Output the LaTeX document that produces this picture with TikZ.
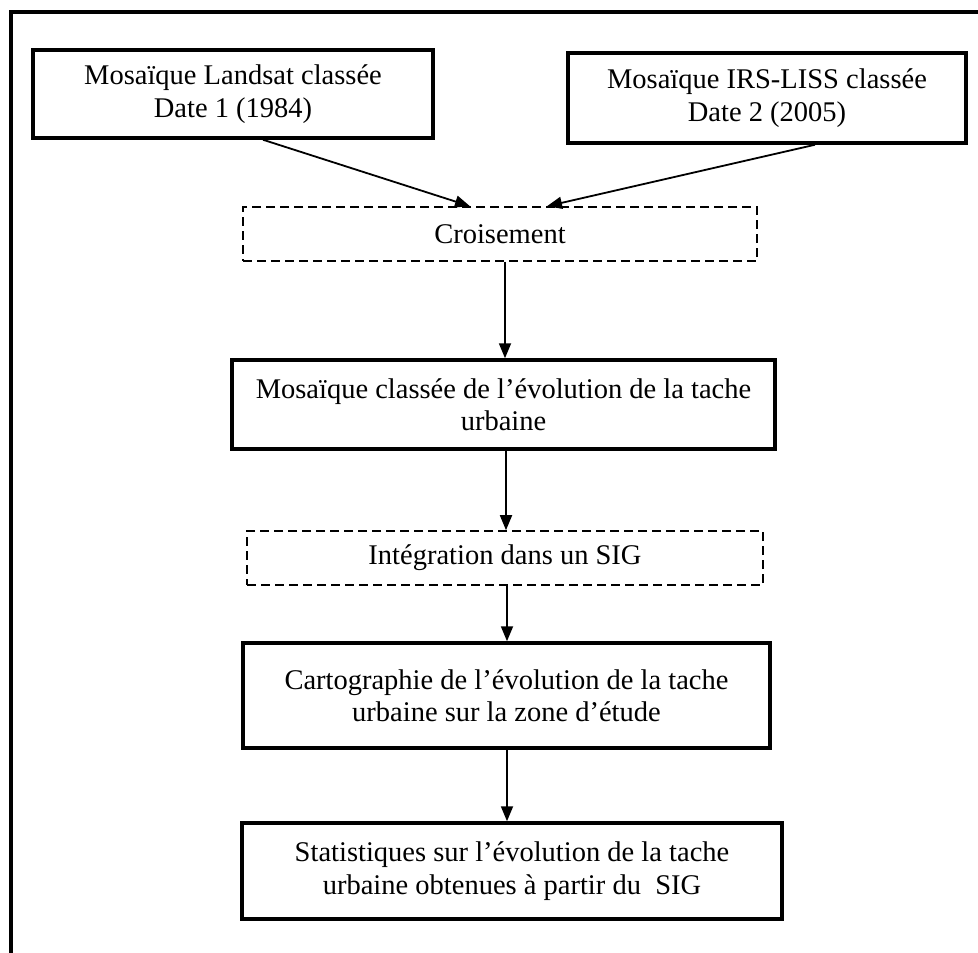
\documentclass[tikz,border=0pt]{standalone}
\usepackage{fontspec}
\setmainfont{Liberation Serif}
\usetikzlibrary{arrows.meta}
\begin{document}
\begin{tikzpicture}[x=1pt,y=-1pt,
  txt/.style={inner sep=0pt, align=center, font=\fontsize{28.5}{32.5}\selectfont},
  box/.style={txt, draw, line width=3.5pt},
  dbox/.style={txt, draw, line width=1.6pt, dash pattern=on 9pt off 5pt},
  arr/.style={line width=1.8pt, -{Triangle[length=15pt,width=12pt]}}]
\useasboundingbox (0,0) rectangle (978,953);
\draw[line width=4pt] (978,12) -- (11,12) -- (11,953);
\node[box, minimum width=400pt, minimum height=88pt] (b1) at (233,94) {Mosaïque Landsat classée\\Date 1 (1984)};
\node[box, minimum width=398pt, minimum height=90pt] (b2) at (767,98) {Mosaïque IRS-LISS classée\\Date 2 (2005)};
\node[dbox, minimum width=514pt, minimum height=54pt] (cr) at (500,234) {Croisement};
\node[box, minimum width=543pt, minimum height=89pt] (b3) at (503.5,404.5) {Mosaïque classée de l’évolution de la tache\\urbaine};
\node[dbox, minimum width=516pt, minimum height=54pt] (ig) at (505,558) {Intégration dans un SIG};
\node[box, minimum width=527pt, minimum height=105pt] (b4) at (506.5,695.5) {Cartographie de l’évolution de la tache\\urbaine sur la zone d’étude};
\node[box, minimum width=540pt, minimum height=96pt] (b5) at (512,871) {Statistiques sur l’évolution de la tache\\urbaine obtenues à partir du\ \ SIG};
\draw[arr] ([xshift=30pt]b1.south) -- ([xshift=-30pt]cr.north);
\draw[arr] ([xshift=48pt]b2.south) -- ([xshift=47pt]cr.north);
\draw[arr] ([xshift=5pt]cr.south) -- ([xshift=5pt]cr.south |- b3.north);
\draw[arr] ([xshift=2.5pt]b3.south) -- ([xshift=2.5pt]b3.south |- ig.north);
\draw[arr] ([xshift=2pt]ig.south) -- ([xshift=2pt]ig.south |- b4.north);
\draw[arr] ([xshift=0.5pt]b4.south) -- ([xshift=0.5pt]b4.south |- b5.north);
\end{tikzpicture}
\end{document}
